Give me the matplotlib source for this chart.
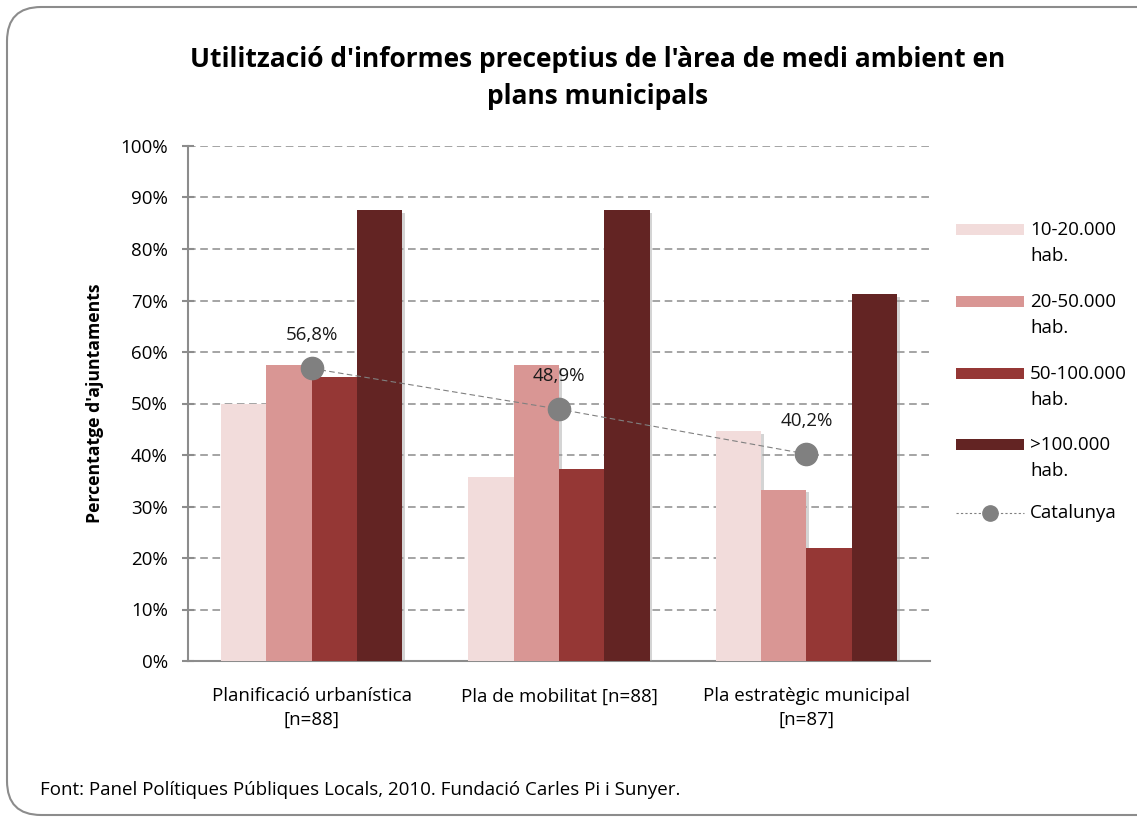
import matplotlib.pyplot as plt
import matplotlib.patheffects as pe
from matplotlib.patches import FancyBboxPatch, Rectangle
from matplotlib.lines import Line2D
import numpy as np

plt.rcParams["font.family"] = ["Open Sans", "DejaVu Sans"]

categories = ["Planificació urbanística\n[n=88]", "Pla de mobilitat [n=88]", "Pla estratègic municipal\n[n=87]"]
series_names = ["10-20.000\nhab.", "20-50.000\nhab.", "50-100.000\nhab.", ">100.000\nhab."]
series_values = [
    [50.0, 35.8, 44.6],
    [57.4, 57.4, 33.3],
    [55.2, 37.3, 22.0],
    [87.5, 87.5, 71.2],
]
series_colors = ["#F2DCDB", "#D99694", "#953735", "#632423"]
catalunya = [56.8, 48.9, 40.2]
catalunya_labels = ["56,8%", "48,9%", "40,2%"]

W, H = 1137, 819
FS = 13.5
fig = plt.figure(figsize=(W / 100, H / 100), dpi=100)

# rounded border around the chart area (runs off the right edge)
border = FancyBboxPatch((7 / W, 4 / H), 1.2, 1 - 11 / H, boxstyle="round,pad=0,rounding_size=0.03",
                        transform=fig.transFigure, fill=False, edgecolor="#8c8c8c", linewidth=1.5,
                        mutation_aspect=W / H)
fig.patches.append(border)

ax = fig.add_axes([188 / W, 1 - 661 / H, 742 / W, 515 / H])

x = np.arange(len(categories))
width = 0.183
shadow = [pe.SimplePatchShadow(offset=(2, -2), shadow_rgbFace="#a0a0a0", alpha=0.45), pe.Normal()]
for i, (vals, col) in enumerate(zip(series_values, series_colors)):
    ax.bar(x + (i - 1.5) * width, vals, width, color=col, zorder=3, path_effects=shadow)

ax.plot(x, catalunya, color="#808080", linestyle=(0, (5, 3)), linewidth=0.8, zorder=4,
        marker="o", markersize=16, markerfacecolor="#808080", markeredgecolor="#808080")
for xi, v, lab in zip(x, catalunya, catalunya_labels):
    ax.annotate(lab, (xi, v), xytext=(0, 24), textcoords="offset points",
                ha="center", va="center", fontsize=FS, color="#1a1a1a", zorder=5)

ax.set_xlim(-0.5, 2.5)
ax.set_ylim(0, 100)
ax.set_yticks(range(0, 101, 10))
ax.set_yticklabels([f"{v}%" for v in range(0, 101, 10)], fontsize=FS)
ax.set_xticks(x)
ax.set_xticklabels(categories, fontsize=FS, linespacing=1.4)
ax.tick_params(axis="x", length=0, pad=19)
ax.tick_params(axis="y", direction="inout", length=9, width=1.5, color="#8c8c8c", pad=10)
ax.yaxis.grid(True, color="#8c8c8c", linestyle=(0, (5, 3)), linewidth=1.1, zorder=0)
ax.set_axisbelow(True)
for s in ["top", "right"]:
    ax.spines[s].set_visible(False)
for s in ["left", "bottom"]:
    ax.spines[s].set_color("#8c8c8c")
    ax.spines[s].set_linewidth(1.5)

ax.set_ylabel("Percentatge d'ajuntaments", fontsize=12.7, fontweight="bold", labelpad=12)

fig.text(598 / W, 1 - 78 / H, "Utilització d'informes preceptius de l'àrea de medi ambient en\nplans municipals",
         ha="center", va="center", fontsize=19, fontweight="bold", linespacing=1.45)

# legend drawn by hand to get the two-line labels aligned like the original
leg_y = [229, 301, 373, 444]
for yy, col, name in zip(leg_y, series_colors, series_names):
    fig.patches.append(Rectangle((956 / W, 1 - (yy + 5.5) / H), 68 / W, 11 / H,
                                 transform=fig.transFigure, facecolor=col, edgecolor="none"))
    fig.text(1030 / W, 1 - (yy - 8) / H, name, ha="left", va="top", fontsize=FS, linespacing=1.55)
cat_y = 1 - 513 / H
fig.lines.append(Line2D([956 / W, 1024 / W], [cat_y, cat_y], transform=fig.transFigure,
                        color="#808080", linestyle=(0, (2, 2)), linewidth=0.8))
fig.lines.append(Line2D([990 / W], [cat_y], transform=fig.transFigure, marker="o", markersize=11,
                        color="#808080", linestyle="none"))
fig.text(1030 / W, cat_y, "Catalunya", ha="left", va="center", fontsize=FS)

fig.text(40 / W, 1 - 790 / H, "Font: Panel Polítiques Públiques Locals, 2010. Fundació Carles Pi i Sunyer.",
         fontsize=FS, ha="left", va="center")

fig.savefig("out.png", dpi=100)
